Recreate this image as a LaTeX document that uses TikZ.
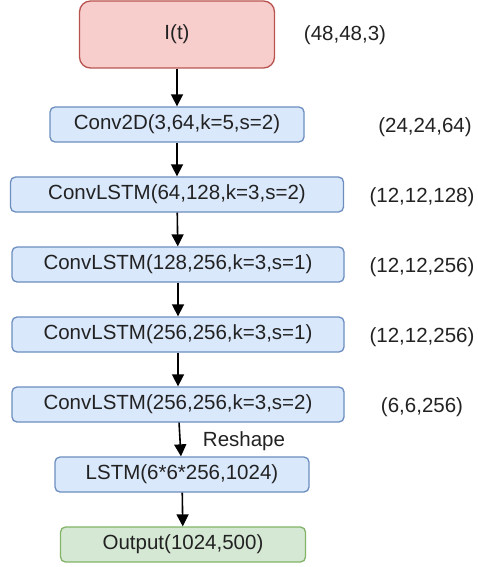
\documentclass[tikz,border=0pt]{standalone}
\usepackage{fontspec}
\setmainfont{Liberation Sans}
\usetikzlibrary{arrows.meta}

\definecolor{redfill}{HTML}{F8CECC}
\definecolor{redline}{HTML}{B85450}
\definecolor{bluefill}{HTML}{DAE8FC}
\definecolor{blueline}{HTML}{6C8EBF}
\definecolor{greenfill}{HTML}{D5E8D4}
\definecolor{greenline}{HTML}{82B366}
\definecolor{txt}{HTML}{222222}

\begin{document}
\begin{tikzpicture}[x=1pt, y=-1pt]
    \tikzset{
        every node/.style={
            font=\fontsize{20.5}{24}\selectfont,
            text=txt,
        },
        layer/.style={
            draw=blueline, fill=bluefill, line width=1.3pt,
            rounded corners=5pt, minimum height=35pt,
            inner sep=0pt,
        },
        inbox/.style={
            layer, draw=redline, fill=redfill,
            rounded corners=11pt, minimum height=67pt,
        },
        outbox/.style={
            layer, draw=greenline, fill=greenfill,
        },
        flow/.style={
            -{Triangle[width=12pt, length=12pt]},
            line width=1.6pt, black,
        },
    }
    \useasboundingbox (0,0) rectangle (478,567);

    % Layers
    \node[inbox, minimum width=195pt] (img) at (177,34.5) {I(t)};
    \node[layer, minimum width=254pt] (conv) at (177,124.5) {Conv2D(3,64,k=5,s=2)};
    \node[layer, minimum width=333pt] (clstma) at (177,194.5) {ConvLSTM(64,128,k=3,s=2)};
    \node[layer, minimum width=332pt] (clstmb) at (178,264.5) {ConvLSTM(128,256,k=3,s=1)};
    \node[layer, minimum width=332pt] (clstmc) at (178,334.5) {ConvLSTM(256,256,k=3,s=1)};
    \node[layer, minimum width=332pt] (clstmd) at (178,404.5) {ConvLSTM(256,256,k=3,s=2)};
    \node[layer, minimum width=254pt] (lstm) at (182,474.5) {LSTM(6*6*256,1024)};
    \node[outbox, minimum width=245pt] (out) at (183,544.5) {Output(1024,500)};

    % Shapes
    \node (dimimg) at (345,35) {(48,48,3)};
    \node (dimconv) at (425,127) {(24,24,64)};
    \node (dima) at (422,197) {(12,12,128)};
    \node (dimb) at (422,267) {(12,12,256)};
    \node (dimc) at (422,337) {(12,12,256)};
    \node (dimd) at (422,407) {(6,6,256)};
    \node (reshape) at (244,441) {Reshape};

    % Arrows
    \draw[flow] (img) -- (conv);
    \draw[flow] (conv) -- (clstma);
    \draw[flow] (clstma) -- (clstmb);
    \draw[flow] (clstmb) -- (clstmc);
    \draw[flow] (clstmc) -- (clstmd);
    \draw[flow] (clstmd) -- (lstm);
    \draw[flow] (lstm) -- (out);
\end{tikzpicture}
\end{document}
